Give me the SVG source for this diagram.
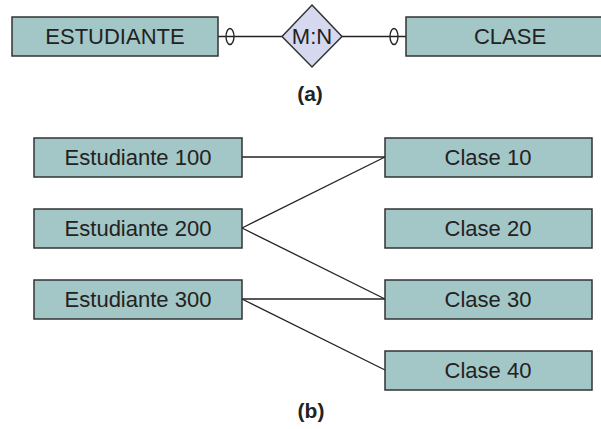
<svg xmlns="http://www.w3.org/2000/svg" width="601" height="429" viewBox="0 0 601 429">
<style>
.box{fill:#a3c6c6;stroke:#333;stroke-width:1.5}
.dia{fill:#d5d8ee;stroke:#333;stroke-width:1.5}
.t{font-family:"Liberation Sans",Arial,sans-serif;font-size:22px;fill:#222;text-anchor:middle}
.cap{font-family:"Liberation Sans",Arial,sans-serif;font-size:21px;font-weight:bold;fill:#222;text-anchor:middle}
.ln{stroke:#222;stroke-width:1.3;fill:none}
</style>
<rect width="601" height="429" fill="#fff"/>
<g id="connectors">
<line class="ln" x1="218" y1="36.5" x2="282" y2="36.5"/>
<line class="ln" x1="342" y1="36.5" x2="406" y2="36.5"/>
<ellipse class="ln" cx="230" cy="36.5" rx="4" ry="8"/>
<ellipse class="ln" cx="394" cy="36.5" rx="4" ry="8"/>
<line class="ln" x1="242" y1="157" x2="385" y2="157"/>
<line class="ln" x1="242" y1="228" x2="385" y2="157"/>
<line class="ln" x1="242" y1="228" x2="385" y2="299"/>
<line class="ln" x1="242" y1="299" x2="385" y2="299"/>
<line class="ln" x1="242" y1="299" x2="385" y2="370"/>
</g>
<g id="estudiante"><rect class="box" x="12" y="17" width="206" height="39"/><text class="t" x="115" y="44">ESTUDIANTE</text></g>
<g id="mn"><polygon class="dia" points="312,5 342,36.5 312,67 282,36.5"/><text class="t" x="312" y="44">M:N</text></g>
<g id="clase"><rect class="box" x="406" y="17" width="200" height="39"/><text class="t" x="510" y="44">CLASE</text></g>
<text class="cap" x="310" y="101">(a)</text>
<g id="e100"><rect class="box" x="34" y="138" width="208" height="39"/><text class="t" x="138" y="165">Estudiante 100</text></g>
<g id="e200"><rect class="box" x="34" y="209" width="208" height="39"/><text class="t" x="138" y="236">Estudiante 200</text></g>
<g id="e300"><rect class="box" x="34" y="280" width="208" height="39"/><text class="t" x="138" y="307">Estudiante 300</text></g>
<g id="c10"><rect class="box" x="385" y="138" width="207" height="39"/><text class="t" x="488" y="165">Clase 10</text></g>
<g id="c20"><rect class="box" x="385" y="209" width="207" height="39"/><text class="t" x="488" y="236">Clase 20</text></g>
<g id="c30"><rect class="box" x="385" y="280" width="207" height="39"/><text class="t" x="488" y="307">Clase 30</text></g>
<g id="c40"><rect class="box" x="385" y="351" width="207" height="39"/><text class="t" x="488" y="378">Clase 40</text></g>
<text class="cap" x="311" y="418">(b)</text>
</svg>
